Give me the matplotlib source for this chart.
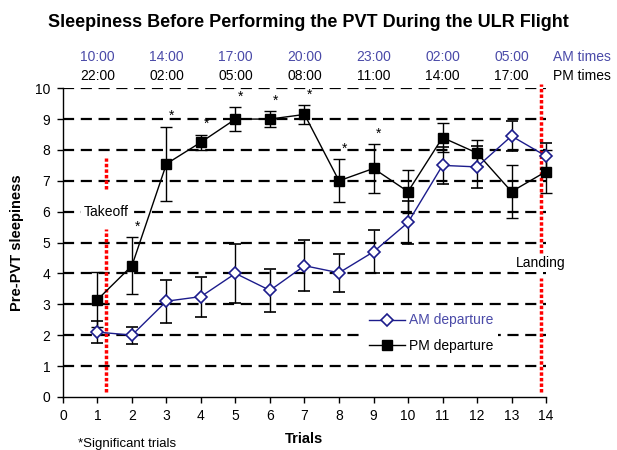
import matplotlib.pyplot as plt
from matplotlib.lines import Line2D

plt.rcParams['font.family'] = ['Liberation Sans', 'DejaVu Sans']

trials = list(range(1, 15))
am_mean = [2.1, 2.0, 3.1, 3.25, 4.0, 3.45, 4.25, 4.02, 4.7, 5.65, 7.5, 7.45, 8.45, 7.8]
am_err = [0.35, 0.28, 0.7, 0.65, 0.95, 0.7, 0.82, 0.62, 0.7, 0.7, 0.6, 0.68, 0.5, 0.43]
pm_mean = [3.15, 4.25, 7.55, 8.25, 9.0, 9.0, 9.15, 7.0, 7.4, 6.65, 8.4, 7.9, 6.65, 7.3]
pm_err = [0.9, 0.93, 1.2, 0.25, 0.38, 0.25, 0.3, 0.7, 0.78, 0.7, 0.47, 0.42, 0.85, 0.7]
significant = [2, 3, 4, 5, 6, 7, 8, 9]

time_pos = [1, 3, 5, 7, 9, 11, 13]
am_times = ["10:00", "14:00", "17:00", "20:00", "23:00", "02:00", "05:00"]
pm_times = ["22:00", "02:00", "05:00", "08:00", "11:00", "14:00", "17:00"]

blue_txt = '#4a4aa8'
navy = '#1c1c8c'
fs = 10

fig = plt.figure(figsize=(6.17, 4.5), dpi=100)
ax = fig.add_axes([0.102, 0.118, 0.783, 0.686])

for yv in range(1, 11):
    ax.axhline(yv, color='black', lw=1.6, ls=(0, (5, 3)), zorder=1)

# takeoff / landing markers
red_kw = dict(color='red', lw=2.5, ls=(0, (1, 0.6)), zorder=2, clip_on=False)
ax.plot([1.25, 1.25], [0.15, 5.45], **red_kw)
ax.plot([1.25, 1.25], [6.75, 7.75], **red_kw)
ax.plot([13.85, 13.85], [0.15, 3.85], **red_kw)
ax.plot([13.85, 13.85], [4.65, 10.15], **red_kw)
ax.text(1.25, 6.0, "Takeoff", ha='center', va='center', fontsize=fs,
        bbox=dict(facecolor='white', edgecolor='none', pad=1.5), zorder=3)
ax.text(13.85, 4.35, "Landing", ha='center', va='center', fontsize=fs,
        bbox=dict(facecolor='white', edgecolor='none', pad=1.5), zorder=3)

ax.errorbar(trials, pm_mean, yerr=pm_err, color='black', lw=1, marker='s', ms=7.5,
            mfc='black', mec='black', capsize=4, elinewidth=1, ecolor='black',
            zorder=5, clip_on=False)
ax.errorbar(trials, am_mean, yerr=am_err, color=navy, lw=1, marker='D', ms=6.5,
            mfc='white', mec=navy, mew=1.2, capsize=4, elinewidth=1, ecolor='black',
            zorder=6, clip_on=False)

for t in significant:
    i = trials.index(t)
    ax.text(t + 0.15, pm_mean[i] + pm_err[i] + 0.12, "*", ha='center', va='bottom', fontsize=fs)

handles = [
    Line2D([], [], color=navy, lw=1, marker='D', ms=6.5, mfc='white', mec=navy, mew=1.2),
    Line2D([], [], color='black', lw=1, marker='s', ms=7.5, mfc='black', mec='black'),
]
leg = ax.legend(handles, ['AM departure', 'PM departure'], loc='center',
                bbox_to_anchor=(0.762, 0.207), frameon=True, fancybox=False,
                edgecolor='none', facecolor='white', framealpha=1, fontsize=fs,
                handlelength=2.6, handletextpad=0.3, borderpad=0.3, labelspacing=0.8)
leg.set_zorder(4)
leg.get_texts()[0].set_color(blue_txt)

for p, a, b in zip(time_pos, am_times, pm_times):
    ax.text(p, 11.0, a, ha='center', va='center', fontsize=fs, color=blue_txt)
    ax.text(p, 10.4, b, ha='center', va='center', fontsize=fs, color='black')
ax.text(14.2, 11.0, "AM times", ha='left', va='center', fontsize=fs, color=blue_txt)
ax.text(14.2, 10.4, "PM times", ha='left', va='center', fontsize=fs, color='black')

ax.set_xlim(0, 14)
ax.set_ylim(0, 10)
ax.set_xticks(range(0, 15))
ax.set_yticks(range(0, 11))
ax.tick_params(labelsize=fs, direction='out', length=4, width=1, pad=5)
for s in ['top', 'right']:
    ax.spines[s].set_visible(False)
ax.spines['left'].set_linewidth(1)
ax.spines['bottom'].set_linewidth(1)

ax.set_xlabel("Trials", fontsize=10.5, fontweight='bold', labelpad=6)
ax.set_ylabel("Pre-PVT sleepiness", fontsize=10.5, fontweight='bold', labelpad=8)
fig.text(0.206, 0.014, "*Significant trials", ha='center', va='center', fontsize=9.5)
fig.suptitle("Sleepiness Before Performing the PVT During the ULR Flight",
             fontsize=13, fontweight='bold', y=0.968)

fig.savefig("out.png", dpi=100)
